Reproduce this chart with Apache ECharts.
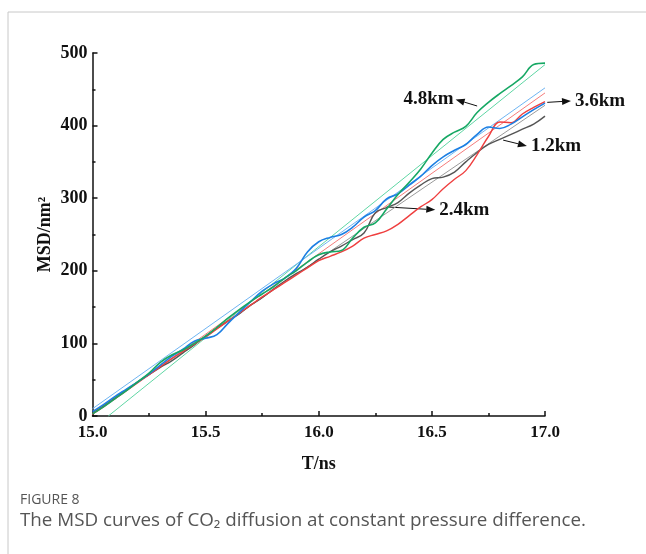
<!DOCTYPE html>
<html>
<head>
<meta charset="utf-8">
<script src="https://cdn.jsdelivr.net/npm/echarts@6/dist/echarts.min.js"></script>
<style>
  html, body { margin: 0; padding: 0; background: #fff; }
  #main { width: 646px; height: 554px; }
</style>
</head>
<body>
<div id="main"></div>
<script>
// time axis (ns), one sample every 0.05 ns
var times = [15.00, 15.05, 15.10, 15.15, 15.20, 15.25, 15.30, 15.35, 15.40, 15.45,
  15.50, 15.55, 15.60, 15.65, 15.70, 15.75, 15.80, 15.85, 15.90, 15.95,
  16.00, 16.05, 16.10, 16.15, 16.20, 16.25, 16.30, 16.35, 16.40, 16.45,
  16.50, 16.55, 16.60, 16.65, 16.70, 16.75, 16.80, 16.85, 16.90, 16.95, 17.00];

// MSD (nm^2)
var msd12 = [4, 14, 25, 36, 47, 57, 67, 76, 87, 98,
  110, 121, 131, 141, 153, 163, 175, 186, 196, 205,
  216, 226, 234, 243, 252, 280, 287, 294, 307, 318,
  327, 329, 336, 350, 363, 374, 381, 388, 395, 402, 413];
var msd24 = [3, 13, 24, 35, 46, 57, 68, 79, 89, 99,
  109, 120, 131, 142, 153, 164, 174, 184, 194, 204,
  214, 220, 226, 234, 245, 250, 255, 264, 276, 288,
  298, 313, 326, 338, 360, 385, 405, 404, 416, 425, 433];
var msd36 = [6, 16, 27, 37, 47, 58, 70, 82, 92, 103,
  107, 112, 128, 143, 158, 172, 182, 190, 203, 226,
  240, 246, 250, 260, 274, 283, 299, 306, 318, 330,
  345, 357, 366, 374, 388, 398, 396, 402, 412, 422, 431];
var msd48 = [3, 13, 24, 35, 47, 59, 74, 84, 91, 100,
  110, 122, 135, 147, 158, 168, 178, 190, 200, 212,
  222, 226, 228, 245, 260, 266, 285, 305, 322, 340,
  362, 381, 391, 399, 418, 432, 444, 455, 467, 484, 486];

// linear fits: [start T, start MSD, end T, end MSD]
var fit12 = [15.0, 4, 17.0, 428];
var fit24 = [15.0, 2, 17.0, 445];
var fit36 = [15.0, 10, 17.0, 452];
var fit48 = [15.07, 0, 17.0, 484];

var xTicks = [15.0, 15.5, 16.0, 16.5, 17.0];
var yTicks = [0, 100, 200, 300, 400, 500];

// label, arrow tail [T, MSD], arrow head [T, MSD], text side
var notes = [
  { text: '4.8km', from: [16.70, 427], to: [16.605, 436], side: 'left' },
  { text: '3.6km', from: [17.01, 432], to: [17.115, 434], side: 'right' },
  { text: '1.2km', from: [16.815, 380], to: [16.92, 372], side: 'right' },
  { text: '2.4km', from: [16.30, 288], to: [16.515, 284], side: 'right' }
];

function pairs(ys) {
  return times.map(function (t, i) { return [t, ys[i]]; });
}
function fitLine(f) {
  return [[f[0], f[1]], [f[2], f[3]]];
}

var serif = '"Liberation Serif", "Times New Roman", serif';
var sans = '"Open Sans", "Noto Sans", sans-serif';

var myChart = echarts.init(document.getElementById('main'));

function curve(name, data, color, width, smooth) {
  return {
    name: name,
    type: 'line',
    data: data,
    showSymbol: false,
    smooth: smooth,
    clip: false,
    silent: true,
    lineStyle: { color: color, width: width },
    animation: false
  };
}

var option = {
  animation: false,
  grid: { left: 92.5, right: 101, top: 53, bottom: 138 },
  xAxis: {
    type: 'value',
    min: 15,
    max: 17,
    interval: 0.5,
    name: 'T/ns',
    nameLocation: 'middle',
    nameGap: 39,
    nameMoveOverlap: false,
    nameTextStyle: { fontFamily: serif, fontWeight: 'bold', fontSize: 18, color: '#111' },
    axisLine: { lineStyle: { color: '#111', width: 1.5 } },
    axisTick: { inside: true, length: 5, lineStyle: { color: '#111', width: 1.5 } },
    minorTick: { show: true, splitNumber: 2, length: 3, lineStyle: { color: '#111', width: 1.5 } },
    splitLine: { show: false },
    axisLabel: {
      margin: 8,
      fontFamily: serif, fontWeight: 'bold', fontSize: 17, color: '#111',
      formatter: function (v) { return xTicks.indexOf(v) >= 0 ? v.toFixed(1) : ''; }
    }
  },
  yAxis: {
    type: 'value',
    min: 0,
    max: 500,
    interval: 100,
    name: 'MSD/nm²',
    nameLocation: 'middle',
    nameGap: 38,
    nameMoveOverlap: false,
    nameTextStyle: { fontFamily: serif, fontWeight: 'bold', fontSize: 18, color: '#111' },
    axisLine: { show: true, lineStyle: { color: '#111', width: 1.5 } },
    axisTick: { show: true, inside: true, length: 5, lineStyle: { color: '#111', width: 1.5 } },
    minorTick: { show: true, splitNumber: 2, length: 3, lineStyle: { color: '#111', width: 1.5 } },
    splitLine: { show: false },
    axisLabel: {
      margin: 5,
      fontFamily: serif, fontWeight: 'bold', fontSize: 18, color: '#111',
      formatter: function (v) { return yTicks.indexOf(v) >= 0 ? String(v) : ''; }
    }
  },
  series: [
    curve('fit 4.8km', fitLine(fit48), '#5fd6a4', 1, false),
    curve('fit 3.6km', fitLine(fit36), '#6fb4f2', 1, false),
    curve('fit 2.4km', fitLine(fit24), '#f47c7c', 1, false),
    curve('fit 1.2km', fitLine(fit12), '#9a9a9a', 1, false),
    curve('1.2km', pairs(msd12), '#555555', 1.4, 0.4),
    curve('2.4km', pairs(msd24), '#ef3f3f', 1.4, 0.4),
    curve('3.6km', pairs(msd36), '#1c7fe3', 1.6, 0.4),
    curve('4.8km', pairs(msd48), '#16a864', 1.6, 0.4)
  ]
};
myChart.setOption(option);

// frame, caption, and the arrows/labels placed from data coordinates
var graphics = [
  { type: 'line', shape: { x1: 8, y1: 12, x2: 646, y2: 12 }, style: { stroke: '#c8c8c8', lineWidth: 1 } },
  { type: 'line', shape: { x1: 8, y1: 12, x2: 8, y2: 554 }, style: { stroke: '#c8c8c8', lineWidth: 1 } },
  { type: 'text', left: 20, top: 493, style: { text: 'FIGURE 8', font: '14px ' + sans, fill: '#555' } },
  { type: 'text', left: 20, top: 511, style: { text: 'The MSD curves of CO₂ diffusion at constant pressure difference.', font: '18.8px ' + sans, fill: '#555' } }
];
notes.forEach(function (n) {
  var a = myChart.convertToPixel({ gridIndex: 0 }, n.from);
  var b = myChart.convertToPixel({ gridIndex: 0 }, n.to);
  var dx = b[0] - a[0], dy = b[1] - a[1];
  var len = Math.sqrt(dx * dx + dy * dy);
  var ux = dx / len, uy = dy / len;
  var hl = 9, hw = 3.5;
  var bx = b[0] - ux * hl, by = b[1] - uy * hl;
  graphics.push({
    type: 'line',
    shape: { x1: a[0], y1: a[1], x2: bx, y2: by },
    style: { stroke: '#111', lineWidth: 1 }
  });
  graphics.push({
    type: 'polygon',
    shape: { points: [[b[0], b[1]], [bx - uy * hw, by + ux * hw], [bx + uy * hw, by - ux * hw]] },
    style: { fill: '#111' }
  });
  graphics.push({
    type: 'text',
    x: n.side === 'left' ? b[0] - 2 : b[0] + 4,
    y: b[1],
    style: {
      text: n.text,
      font: 'bold 19px ' + serif,
      fill: '#111',
      align: n.side === 'left' ? 'right' : 'left',
      verticalAlign: 'middle'
    }
  });
});
myChart.setOption({ graphic: graphics });

window.addEventListener('resize', function () {
  myChart.resize();
});
</script>
</body>
</html>
